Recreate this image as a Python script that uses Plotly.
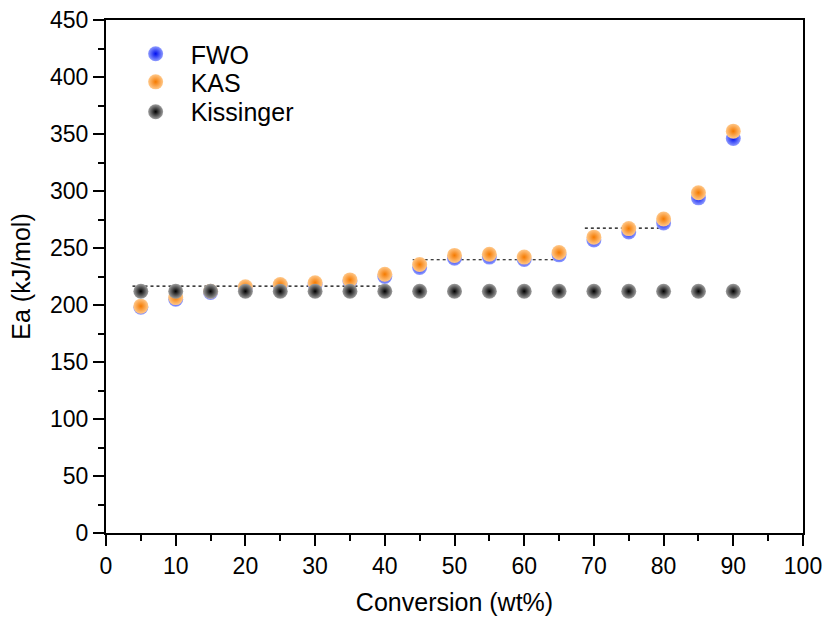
import plotly.graph_objects as go

# Conversion levels (wt%)
conversion = [5, 10, 15, 20, 25, 30, 35, 40, 45, 50, 55, 60, 65, 70, 75, 80, 85, 90]

# Activation energies (kJ/mol)
ea_fwo = [198, 205, 211, 215, 217, 218, 221, 225, 233, 241, 242, 240, 244, 257, 264, 272, 294, 346]
ea_kas = [199, 206.5, 212, 216, 218, 219.5, 222, 227, 235.5, 243.5, 244.5, 242, 246, 259.5, 267, 275.5, 298.5, 352.5]
ea_kissinger = [212] * len(conversion)

# Mean-value plateaus (start, end, level)
plateau_x = [[3.8, 40.2], [44, 64.2], [68.7, 80.5]]
plateau_y = [216.5, 239.7, 267.4]

FONT = "Liberation Sans, Arial"

fig = go.Figure()

for xs, level in zip(plateau_x, plateau_y):
    fig.add_trace(go.Scatter(
        x=xs, y=[level, level], mode="lines",
        line=dict(color="black", width=1.2, dash="dot"),
        showlegend=False, hoverinfo="skip",
    ))

def sphere(center, edge):
    return dict(size=15, color=center, line=dict(width=0),
                gradient=dict(type="radial", color=edge))

fig.add_trace(go.Scatter(x=conversion, y=ea_fwo, mode="markers", name="FWO",
                         marker=sphere("#8f9cff", "#0010f0"), legend="legend"))
fig.add_trace(go.Scatter(x=conversion, y=ea_kas, mode="markers", name="KAS",
                         marker=sphere("#ffc88a", "#f57a00"), legend="legend2"))
fig.add_trace(go.Scatter(x=conversion, y=ea_kissinger, mode="markers", name="Kissinger",
                         marker=sphere("#a0a0a0", "#000000"), legend="legend3"))

axis_common = dict(
    showgrid=False, zeroline=False, showline=True, linecolor="black", linewidth=2,
    mirror=True, ticks="outside", ticklen=11, tickwidth=2, tickcolor="black",
    tickfont=dict(family=FONT, size=23, color="black"), automargin=False,
)

fig.update_xaxes(
    range=[0, 100], tick0=0, dtick=10,
    minor=dict(ticks="outside", ticklen=6, tickwidth=2, tickcolor="black", dtick=5),
    title=dict(text="Conversion (wt%)", font=dict(family=FONT, size=25, color="black"),
               standoff=16),
    **axis_common,
)
fig.update_yaxes(
    range=[0, 450], tick0=0, dtick=50,
    minor=dict(ticks="outside", ticklen=6, tickwidth=2, tickcolor="black", dtick=25),
    title=dict(text="Ea (kJ/mol)", font=dict(family=FONT, size=25, color="black"),
               standoff=12),
    **axis_common,
)

def legend_box(y):
    return dict(x=0.021, y=y, xanchor="left", yanchor="middle",
                font=dict(family=FONT, size=25, color="black"),
                bgcolor="rgba(0,0,0,0)", itemsizing="trace", itemwidth=60)

fig.update_layout(
    width=829, height=624,
    margin=dict(l=106, r=26, t=20, b=91),
    plot_bgcolor="white", paper_bgcolor="white",
    legend=legend_box(0.9337),
    legend2=legend_box(0.879),
    legend3=legend_box(0.8207),
)

fig.write_html("out.html")
